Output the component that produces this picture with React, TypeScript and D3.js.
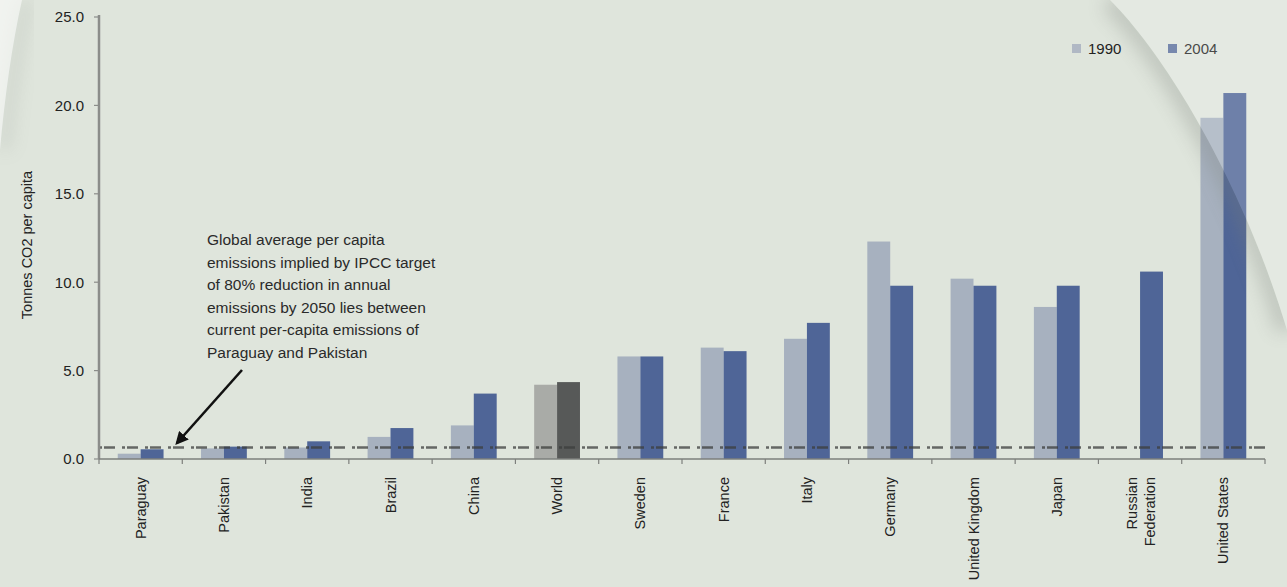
import React from "react";
import * as d3 from "d3";

const categories = [
  "Paraguay", "Pakistan", "India", "Brazil", "China", "World", "Sweden",
  "France", "Italy", "Germany", "United Kingdom", "Japan", "Russian Federation", "United States",
];
const values1990: (number | null)[] = [0.3, 0.6, 0.65, 1.25, 1.9, 4.2, 5.8, 6.3, 6.8, 12.3, 10.2, 8.6, null, 19.3];
const values2004: number[] = [0.55, 0.7, 1.0, 1.75, 3.7, 4.35, 5.8, 6.1, 7.7, 9.8, 9.8, 9.8, 10.6, 20.7];
const series = ["1990", "2004"];
const yTicks = [0, 5, 10, 15, 20, 25];
const targetLevel = 0.65;
const annotationLines = [
  "Global average per capita",
  "emissions implied by IPCC target",
  "of 80% reduction in annual",
  "emissions by 2050 lies between",
  "current per-capita emissions of",
  "Paraguay and Pakistan",
];

const W = 1287, H = 587;
const left = 99, right = 1265, top = 17, bottom = 459;
const FONT = "'Liberation Sans', Arial, Helvetica, sans-serif";
const curveR = "M1110,0 C1170,60 1245,190 1287,330";
const curveL = "M22,0 C12,45 5,95 0,150";

export default function App() {
  const x0 = d3.scaleBand<string>().domain(categories).range([left, right]).paddingInner(0.45).paddingOuter(0.225);
  const x1 = d3.scaleBand<string>().domain(series).range([0, x0.bandwidth()]).padding(0);
  const y = d3.scaleLinear().domain([0, 25]).range([bottom, top]);
  const step = x0.step();
  const colorFor = (cat: string, s: string) => {
    if (cat === "World") return s === "1990" ? "#a9aba7" : "#575958";
    return s === "1990" ? "#a7b1bf" : "#4f6597";
  };
  const boundaries = d3.range(categories.length + 1).map((i) => left + i * step);

  return (
    <svg width={W} height={H} style={{ position: "absolute", left: 0, top: 0 }} fontFamily={FONT}>
      <defs>
        <filter id="soft" x="-30%" y="-30%" width="160%" height="160%">
          <feGaussianBlur stdDeviation="9" />
        </filter>
        <clipPath id="insideR">
          <path d={`${curveR} L1287,587 L0,587 L0,0 Z`} />
        </clipPath>
        <marker id="arrow" viewBox="0 0 10 10" refX="8" refY="5" markerWidth="5" markerHeight="5" orient="auto-start-reverse">
          <path d="M0,0 L10,5 L0,10 Z" fill="#111" />
        </marker>
      </defs>
      <rect width={W} height={H} fill="#dfe5dc" />

      {/* bars */}
      {categories.map((cat, i) => (
        <g key={cat} transform={`translate(${x0(cat)},0)`}>
          {[values1990[i], values2004[i]].map((v, j) =>
            v == null ? null : (
              <rect key={j} x={x1(series[j])} y={y(v)} width={x1.bandwidth()} height={y(0) - y(v)} fill={colorFor(cat, series[j])} />
            )
          )}
        </g>
      ))}

      {/* target dashed line */}
      <line x1={left} x2={right} y1={y(targetLevel)} y2={y(targetLevel)} stroke="#3c3e3c" strokeWidth={2.4} strokeDasharray="3 2 11 7" opacity={0.75} />

      {/* y axis */}
      <line x1={left} x2={left} y1={top - 2} y2={bottom} stroke="#8b8d8a" strokeWidth={2.5} />
      {yTicks.map((t) => (
        <g key={t}>
          <line x1={left - 5} x2={left} y1={y(t)} y2={y(t)} stroke="#8b8d8a" strokeWidth={1.2} />
          <text x={84} y={y(t)} dy="0.36em" textAnchor="end" fontSize={15} fill="#222">{t.toFixed(1)}</text>
        </g>
      ))}
      <text transform={`translate(27,245) rotate(-90)`} textAnchor="middle" dy="0.35em" fontSize={14.5} fill="#222">Tonnes CO2 per capita</text>

      {/* x axis */}
      <line x1={left} x2={right} y1={bottom} y2={bottom} stroke="#7d7f7c" strokeWidth={1.5} />
      {boundaries.map((b, i) => (
        <line key={i} x1={b} x2={b} y1={bottom} y2={bottom + 5} stroke="#7d7f7c" strokeWidth={1.2} />
      ))}
      {categories.map((cat) => {
        const cx = (x0(cat) as number) + x0.bandwidth() / 2;
        const parts = cat === "Russian Federation" ? ["Russian", "Federation"] : [cat];
        return (
          <text key={cat} transform={`translate(${cx},477) rotate(-90)`} textAnchor="end" fontSize={14.5} fill="#222">
            {parts.map((p, k) => (
              <tspan key={k} x={0} dy={parts.length === 1 ? "0.35em" : k === 0 ? "-0.2em" : "1.25em"}>{p}</tspan>
            ))}
          </text>
        );
      })}

      {/* annotation */}
      {annotationLines.map((l, i) => (
        <text key={i} x={207} y={245 + i * 22.5} fontSize={15.5} fill="#2a2a2a">{l}</text>
      ))}
      <line x1={242} y1={370} x2={177} y2={443} stroke="#111" strokeWidth={2.6} markerEnd="url(#arrow)" />

      {/* legend */}
      {series.map((s, i) => (
        <g key={s} transform={`translate(${1072 + i * 96},44)`}>
          <rect width={9} height={9} fill={i === 0 ? "#b0b8c4" : "#5a6e9c"} />
          <text x={16} y={4.5} dy="0.36em" fontSize={15} fill="#222">{s}</text>
        </g>
      ))}

      {/* page curl decorations */}
      <g clipPath="url(#insideR)">
        <path d={curveR} fill="none" stroke="#7a8079" strokeWidth={22} opacity={0.3} filter="url(#soft)" />
      </g>
      <path d={`${curveR} L1287,0 Z`} fill="#ffffff" opacity={0.18} />
      <path d={curveL} transform="translate(5,0)" fill="none" stroke="#7a8079" strokeWidth={8} opacity={0.25} filter="url(#soft)" />
      <path d={`${curveL} L0,0 Z`} fill="#ffffff" opacity={0.55} />
    </svg>
  );
}
